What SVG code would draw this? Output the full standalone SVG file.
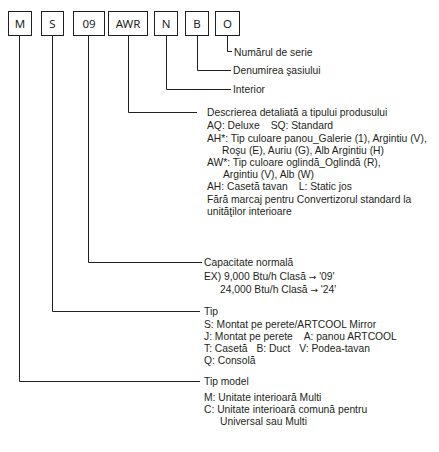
<svg xmlns="http://www.w3.org/2000/svg" width="439" height="452" viewBox="0 0 439 452">
<style>
.box{fill:#fff;stroke:#231f20;stroke-width:1}
.code{font-family:"Noto Sans","Liberation Sans",sans-serif;font-size:11.5px;font-weight:normal;fill:#231f20;text-anchor:middle}
.ln{fill:none;stroke:#231f20;stroke-width:1}
.t{font-family:"Liberation Sans",Arial,sans-serif;font-size:10.3px;fill:#231f20}
.ar{font-family:"DejaVu Sans",sans-serif;font-size:9px}
</style>
<rect width="439" height="452" fill="#fff"/>
<g id="connectors">
<path class="ln" d="M19.5 35V381.5H200"/>
<path class="ln" d="M52.5 35V311.5H200"/>
<path class="ln" d="M88.5 35V262.5H202"/>
<path class="ln" d="M128.5 35V112.5H197"/>
<path class="ln" d="M166.5 35V89.5H231"/>
<path class="ln" d="M197.5 35V70.5H231"/>
<path class="ln" d="M227.5 35V51.5H232"/>
</g>
<g id="node-M"><rect class="box" x="8.5" y="11.5" width="23" height="24"/><text class="code" x="20" y="27.5">M</text></g>
<g id="node-S"><rect class="box" x="41.5" y="11.5" width="22" height="24"/><text class="code" x="52.5" y="27.5">S</text></g>
<g id="node-09"><rect class="box" x="73.5" y="11.5" width="31" height="24"/><text class="code" x="89" y="27.5">09</text></g>
<g id="node-AWR"><rect class="box" x="108.5" y="11.5" width="39" height="24"/><text class="code" x="128" y="27.5">AWR</text></g>
<g id="node-N"><rect class="box" x="154.5" y="11.5" width="23" height="24"/><text class="code" x="166" y="27.5">N</text></g>
<g id="node-B"><rect class="box" x="185.5" y="11.5" width="23" height="24"/><text class="code" x="197" y="27.5">B</text></g>
<g id="node-O"><rect class="box" x="215.5" y="11.5" width="24" height="24"/><text class="code" x="227.5" y="27.5">O</text></g>
<g id="desc-serie"><text class="t" x="234" y="56">Numărul de serie</text></g>
<g id="desc-sasiu"><text class="t" x="233" y="74">Denumirea şasiului</text></g>
<g id="desc-interior"><text class="t" x="233" y="93">Interior</text></g>
<g id="desc-produs">
<text class="t" x="207" y="116">Descrierea detaliată a tipului produsului</text>
<text class="t" x="207" y="129">AQ: Deluxe<tspan dx="11">SQ: Standard</tspan></text>
<text class="t" x="207" y="142">AH*: Tip culoare panou_Galerie (1), Argintiu (V),</text>
<text class="t" x="222" y="154">Roşu (E), Auriu (G), Alb Argintiu (H)</text>
<text class="t" x="207" y="166">AW*: Tip culoare oglindă_Oglindă (R),</text>
<text class="t" x="223" y="178">Argintiu (V), Alb (W)</text>
<text class="t" x="207" y="190">AH: Casetă tavan<tspan dx="11">L: Static jos</tspan></text>
<text class="t" x="207" y="203">Fără marcaj pentru Convertizorul standard la</text>
<text class="t" x="207" y="215">unităţilor interioare</text>
</g>
<g id="desc-capacitate">
<text class="t" x="204" y="266">Capacitate normală</text>
<text class="t" x="204" y="280">EX) 9,000 Btu/h Clasă <tspan class="ar">→</tspan> '09'</text>
<text class="t" x="220" y="293">24,000 Btu/h Clasă <tspan class="ar">→</tspan> '24'</text>
</g>
<g id="desc-tip">
<text class="t" x="204" y="315">Tip</text>
<text class="t" x="204" y="328">S: Montat pe perete/ARTCOOL Mirror</text>
<text class="t" x="204" y="340">J: Montat pe perete<tspan dx="11">A: panou ARTCOOL</tspan></text>
<text class="t" x="204" y="352">T: Casetă<tspan dx="9">B: Duct</tspan><tspan dx="9">V: Podea-tavan</tspan></text>
<text class="t" x="204" y="364">Q: Consolă</text>
</g>
<g id="desc-model">
<text class="t" x="204" y="385">Tip model</text>
<text class="t" x="204" y="401">M: Unitate interioară Multi</text>
<text class="t" x="204" y="413">C: Unitate interioară comună pentru</text>
<text class="t" x="220" y="425">Universal sau Multi</text>
</g>
</svg>
